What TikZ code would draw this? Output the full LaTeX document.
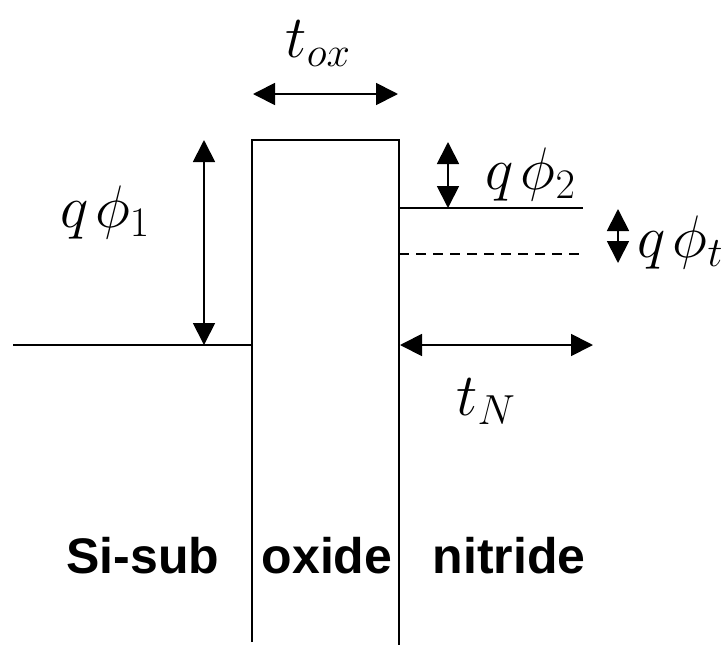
\documentclass[tikz,border=0pt]{standalone}
\usepackage{fix-cm}
\usepackage{amsmath}
\usepackage{fontspec}
\setsansfont{Liberation Sans}
\usepackage{tikz}
\usetikzlibrary{arrows.meta}

\begin{document}
\begin{tikzpicture}[x=1pt, y=-1pt, >={Triangle[length=22pt,width=22pt]}, line width=1.8pt,
    sym/.style={font=\fontsize{60}{66}\selectfont, inner sep=0pt},
    layer/.style={font=\fontsize{50}{60}\selectfont\sffamily\bfseries, inner sep=0pt, anchor=base}]
    \useasboundingbox (0,0) rectangle (721,646);
    % oxide barrier, open at the bottom
    \coordinate (oxbl) at (252,642);
    \coordinate (oxtl) at (252,140);
    \coordinate (oxtr) at (399,140);
    \coordinate (oxbr) at (399,645);
    \draw (oxbl) -- (oxtl) -- (oxtr) -- (oxbr);
    % band edges
    \coordinate (siedge) at (13,345);
    \draw (siedge) -- (252,345);
    \coordinate (niedge) at (583,208);
    \draw (399,208) -- (niedge);
    \coordinate (trap) at (583,254);
    \draw[line width=1.2pt, dash pattern=on 10pt off 7pt] (399,254) -- (trap);
    % thicknesses
    \draw[<->] (253,94) -- (398,94);
    \node[sym] (tox) at (318,44) {$t_{ox}$};
    \draw[<->] (400,345) -- (593,345);
    \node[sym] (tn) at (486,402) {$t_N$};
    % barrier heights
    \draw[<->] (204,140) -- (204,345);
    \node[sym] (qphione) at (105,212) {$q\mkern2mu\phi_1$};
    \draw[<->] (448,142) -- (448,208);
    \node[sym, anchor=west] (qphitwo) at (485,174) {$q\mkern2mu\phi_2$};
    \draw[<->] (618,209) -- (618,263);
    \node[sym, anchor=west] (qphit) at (637,242) {$q\mkern2mu\phi_t$};
    % layers
    \node[layer] (sisub) at (143,573) {Si-sub};
    \node[layer] (oxide) at (327,573) {oxide};
    \node[layer] (nitride) at (509,573) {nitride};
\end{tikzpicture}
\end{document}
